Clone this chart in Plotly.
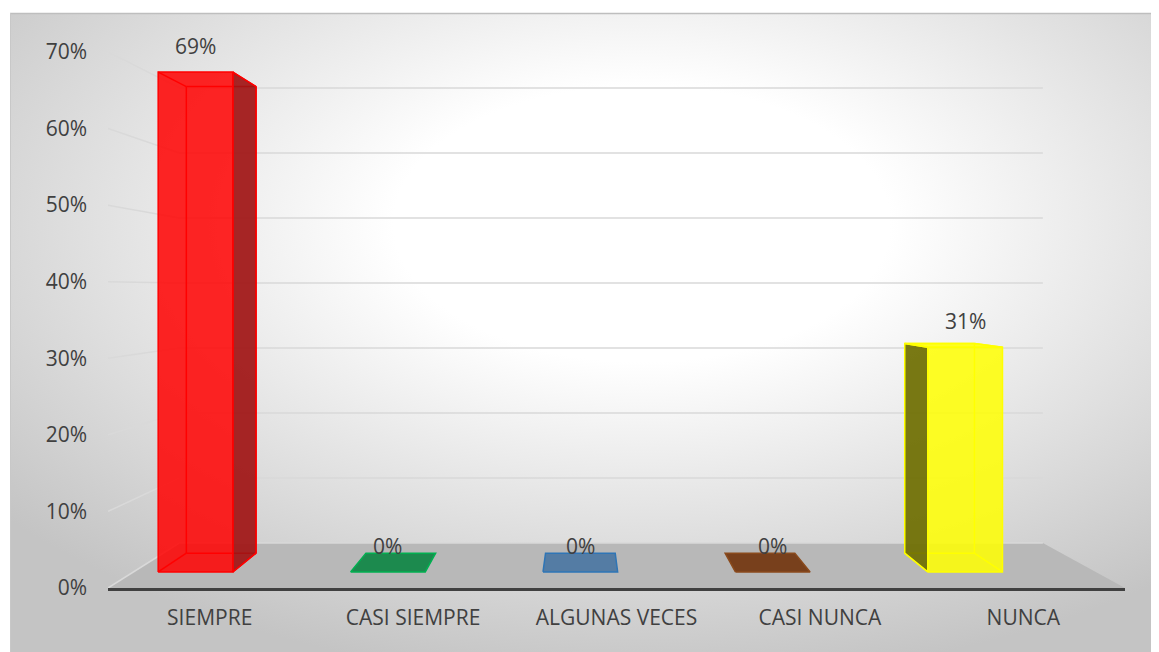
import base64
import plotly.graph_objects as go

# ---------------- data ----------------
CATEGORIES = ["SIEMPRE", "CASI SIEMPRE", "ALGUNAS VECES", "CASI NUNCA", "NUNCA"]
VALUES = [69, 0, 0, 0, 31]
VALUE_LABELS = ["69%", "0%", "0%", "0%", "31%"]
Y_TICKS = [0, 10, 20, 30, 40, 50, 60, 70]
Y_TICK_LABELS = ["0%", "10%", "20%", "30%", "40%", "50%", "60%", "70%"]

# ---------------- styles ----------------
FACE_COLORS = ["rgba(255,0,0,0.85)", "rgb(28,138,78)", "rgb(84,124,164)",
               "rgb(120,64,28)", "rgba(255,255,0,0.85)"]
EDGE_COLORS = ["#ff0000", "#00b050", "#2e75b6", "#8a4a1c", "#ffff00"]
SIDE_COLORS = ["rgba(160,20,20,0.92)", "rgb(20,110,60)", "rgb(60,95,130)",
               "rgb(90,48,20)", "rgba(110,110,0,0.92)"]
TEXT_COLOR = "#404040"
FONT = "Open Sans"
FONT_SIZE = 21

OFF = 8  # default page margin of the html body
W, H = 1159 - OFF, 652 - OFF
M_L, M_R, M_T, M_B = 108 - OFF, 34, 52 - OFF, 64
X_RANGE = [-0.5, 4.5]
Y_RANGE = [0, 70]

# perspective parameters (vanishing point in data units, depth scales)
VX, VY = 1.8255, 38.92
S_FRONT, S_BACK, S_WALL = 0.946, 0.883, 0.849
BAR_OFFSET, BAR_HALF = -0.178, 0.194


def P(x, y, s):
    return VX + (x - VX) * s, VY + (y - VY) * s


def poly(points, fill, line, width=1.5):
    xs = [p[0] for p in points] + [points[0][0]]
    ys = [p[1] for p in points] + [points[0][1]]
    return go.Scatter(x=xs, y=ys, mode="lines", fill="toself", fillcolor=fill,
                      line=dict(color=line, width=width), hoverinfo="skip",
                      showlegend=False)


fig = go.Figure()

# floor
x0, x1 = X_RANGE
floor = [P(x0, 0, 1), P(x1, 0, 1), P(x1, 0, S_WALL), P(x0, 0, S_WALL)]
fig.add_trace(poly(floor, "#b8b8b8", "rgba(0,0,0,0)", 0))

# wall gridlines (back wall + left wall)
gx, gy = [], []
for v in Y_TICKS:
    a, b = P(x0, v, S_WALL), P(x1, v, S_WALL)
    gx += [a[0], b[0], None]
    gy += [a[1], b[1], None]
    c = P(x0, v, 1)
    gx += [c[0], a[0], None]
    gy += [c[1], a[1], None]
fig.add_trace(go.Scatter(x=gx, y=gy, mode="lines",
                         line=dict(color="#d9d9d9", width=1.5),
                         hoverinfo="skip", showlegend=False))

# bars
annotations = []
for i, v in enumerate(VALUES):
    xc = i + BAR_OFFSET
    xl, xr = xc - BAR_HALF, xc + BAR_HALF
    fbl, fbr, ftl, ftr = P(xl, 0, S_FRONT), P(xr, 0, S_FRONT), P(xl, v, S_FRONT), P(xr, v, S_FRONT)
    bbl, bbr, btl, btr = P(xl, 0, S_BACK), P(xr, 0, S_BACK), P(xl, v, S_BACK), P(xr, v, S_BACK)
    face, edge, side = FACE_COLORS[i], EDGE_COLORS[i], SIDE_COLORS[i]
    if v > 0:
        ex, ey = [], []
        for seg in [(bbl, bbr), (bbr, btr), (btr, btl), (btl, bbl),
                    (fbl, bbl), (fbr, bbr), (ftl, btl), (ftr, btr)]:
            ex += [seg[0][0], seg[1][0], None]
            ey += [seg[0][1], seg[1][1], None]
        fig.add_trace(go.Scatter(x=ex, y=ey, mode="lines",
                                 line=dict(color=edge, width=1.5),
                                 hoverinfo="skip", showlegend=False))
        if xr < VX:
            fig.add_trace(poly([ftr, btr, bbr, fbr], side, edge))
        elif xl > VX:
            fig.add_trace(poly([ftl, btl, bbl, fbl], side, edge))
        if v < VY:
            fig.add_trace(poly([ftl, ftr, btr, btl], face, edge))
        fig.add_trace(poly([fbl, fbr, ftr, ftl], face, edge))
    else:
        fig.add_trace(poly([fbl, fbr, bbr, bbl], face, edge))
    lx, ly = P(xc, v, S_FRONT)
    annotations.append(dict(x=lx, y=ly, text=VALUE_LABELS[i], showarrow=False,
                            xanchor="center", yanchor="middle", yshift=26,
                            font=dict(family=FONT, size=FONT_SIZE, color=TEXT_COLOR)))

# background gradient (chart area)
svg = (
    '<svg xmlns="http://www.w3.org/2000/svg" width="1149" height="639" '
    'viewBox="0 0 1149 639" preserveAspectRatio="none">'
    '<defs><radialGradient id="g" cx="0.55" cy="0.33" r="0.72">'
    '<stop offset="0" stop-color="#ffffff"/>'
    '<stop offset="0.3" stop-color="#ffffff"/>'
    '<stop offset="1" stop-color="#c4c4c4"/>'
    '</radialGradient></defs>'
    '<rect width="1149" height="639" fill="url(#g)"/></svg>'
)
src = "data:image/svg+xml;base64," + base64.b64encode(svg.encode()).decode()

PW = W - M_L - M_R
PH = H - M_T - M_B


def px(x):
    return (x - OFF - M_L) / PW


def py(y):
    return (H - M_B - (y - OFF)) / PH


fig.update_layout(
    width=W, height=H,
    margin=dict(l=M_L, r=M_R, t=M_T, b=M_B),
    paper_bgcolor="white", plot_bgcolor="rgba(0,0,0,0)",
    images=[dict(source=src, xref="paper", yref="paper", x=px(10), y=py(13),
                 sizex=1149 / PW, sizey=639 / PH, xanchor="left", yanchor="top",
                 sizing="stretch", layer="below")],
    shapes=[
        dict(type="line", xref="paper", yref="paper", x0=px(10), x1=px(1159),
             y0=py(13.5), y1=py(13.5), line=dict(color="#bebebe", width=1.5)),
        dict(type="line", xref="paper", yref="paper", x0=px(10.5), x1=px(10.5),
             y0=py(13), y1=py(652), line=dict(color="#c8c8c8", width=1)),
    ],
    annotations=annotations,
    font=dict(family=FONT, size=FONT_SIZE, color=TEXT_COLOR),
    xaxis=dict(range=X_RANGE, tickvals=list(range(len(CATEGORIES))),
               ticktext=CATEGORIES, showgrid=False, zeroline=False,
               showline=True, linecolor="#404040", linewidth=3, ticks="",
               ticklabelstandoff=9, fixedrange=True),
    yaxis=dict(range=Y_RANGE, tickvals=Y_TICKS, ticktext=Y_TICK_LABELS,
               showgrid=False, zeroline=False, showline=False, ticks="",
               ticklabelstandoff=20, fixedrange=True),
)

fig.write_html("out.html")
